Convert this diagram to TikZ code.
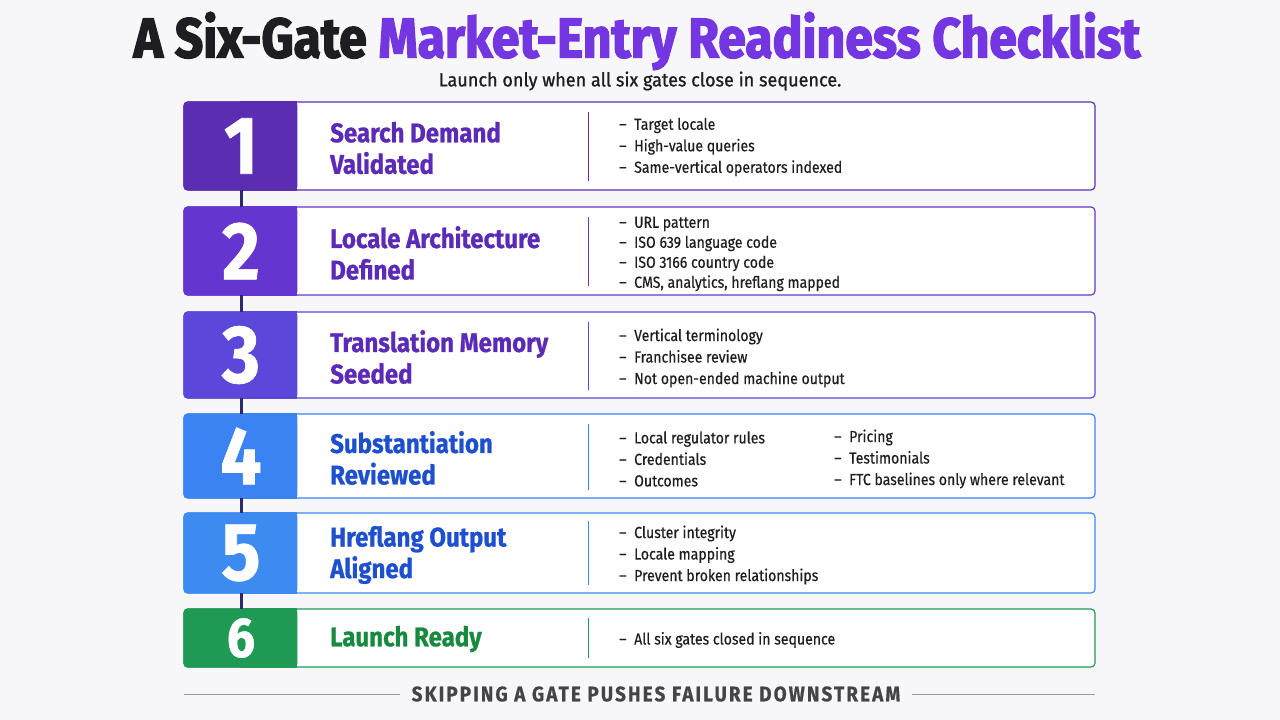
\documentclass[tikz,border=0pt]{standalone}
\usepackage{fontspec}
\usepackage{tikz}
\usepackage{xcolor}
\setmainfont{Fira Sans}
\newfontfamily\condfont{Fira Sans}[FakeStretch=0.89,FakeBold=0.8]
\newfontfamily\titlefont{Fira Sans}[FakeStretch=0.89,FakeBold=2.5]
\newfontfamily\bodyfont{Fira Sans}[FakeStretch=0.88,FakeBold=0.4]
\newfontfamily\subfont{Fira Sans}[FakeStretch=0.95,FakeBold=1]
\newfontfamily\footfont{Fira Sans}[FakeStretch=0.9,LetterSpace=10,FakeBold=0.6]

\definecolor{pagebg}{HTML}{F7F7F9}
\definecolor{ink}{HTML}{1E1E22}
\definecolor{titlepurple}{HTML}{7436E0}
\definecolor{gateone}{HTML}{5A2DB3}
\definecolor{gatetwo}{HTML}{6436CF}
\definecolor{gatethree}{HTML}{5B48DA}
\definecolor{gatefour}{HTML}{3B82F2}
\definecolor{gatefive}{HTML}{3D8BF0}
\definecolor{gatesix}{HTML}{1E9A55}
\definecolor{headpurple}{HTML}{5B2BB8}
\definecolor{headblue}{HTML}{1E4FCF}
\definecolor{headgreen}{HTML}{178A3F}
\definecolor{linkcol}{HTML}{2B2A6B}
\definecolor{footgray}{HTML}{444448}
\definecolor{rulegray}{HTML}{9A9AA0}

\newcommand{\dash}{\makebox[15pt][l]{\textendash}}

\begin{document}
\begin{tikzpicture}[x=1pt,y=-1pt,
  row/.style={draw=#1,line width=1.2pt,rounded corners=4pt,fill=white,minimum width=911pt,inner sep=0pt},
  num/.style={text=white,minimum width=114pt,inner sep=0pt,font=\condfont\bfseries\fontsize{82}{82}\selectfont},
  head/.style={text=#1,anchor=west,align=left,inner sep=0pt,font=\condfont\bfseries\fontsize{27}{31.5}\selectfont},
  bul/.style={text=ink,anchor=west,align=left,inner sep=0pt,font=\bodyfont\fontsize{16}{21.5}\selectfont},
  div/.style={draw=#1,line width=1pt},
  link/.style={draw=linkcol,line width=3pt}]
\fill[pagebg] (0,0) rectangle (1280,720);
\useasboundingbox (0,0) rectangle (1280,720);

% title
\node[font=\titlefont\bfseries\fontsize{56}{60}\selectfont,text=ink,inner sep=0pt] (title) at (637,41) {A Six-Gate \textcolor{titlepurple}{Market-Entry Readiness Checklist}};
\node[font=\subfont\fontsize{19}{22}\selectfont,text=ink,inner sep=0pt] (sub) at (640,81) {Launch only when all six gates close in sequence.};

% gate 1
\node[row=gateone,minimum height=88pt] (r1) at (639.5,146) {};
\fill[gateone,rounded corners=4pt] (r1.north west) rectangle ([xshift=114pt]r1.south west);
\fill[gateone] ([xshift=57pt]r1.north west) rectangle ([xshift=114pt]r1.south west);
\node[num,minimum height=88pt] (n1) at (241,146) {1};
\node[head=headpurple] (t1) at (330,148) {Search Demand\\Validated};
\draw[div=gateone] (588,112) -- (588,181);
\node[bul] (b1) at (619,147) {\dash Target locale\\\dash High-value queries\\\dash Same-vertical operators indexed};

% gate 2
\node[row=gatetwo,minimum height=88pt] (r2) at (639.5,251) {};
\fill[gatetwo,rounded corners=4pt] (r2.north west) rectangle ([xshift=114pt]r2.south west);
\fill[gatetwo] ([xshift=57pt]r2.north west) rectangle ([xshift=114pt]r2.south west);
\node[num,minimum height=88pt] (n2) at (241,251) {2};
\node[head=headpurple] (t2) at (330,253) {Locale Architecture\\Defined};
\draw[div=gatetwo] (588,217) -- (588,286);
\node[bul,font=\bodyfont\fontsize{16}{20}\selectfont] (b2) at (619,254) {\dash URL pattern\\\dash ISO 639 language code\\\dash ISO 3166 country code\\\dash CMS, analytics, hreflang mapped};

% gate 3
\node[row=gatethree,minimum height=86pt] (r3) at (639.5,355) {};
\fill[gatethree,rounded corners=4pt] (r3.north west) rectangle ([xshift=114pt]r3.south west);
\fill[gatethree] ([xshift=57pt]r3.north west) rectangle ([xshift=114pt]r3.south west);
\node[num,minimum height=86pt] (n3) at (241,355) {3};
\node[head=headpurple] (t3) at (330,357) {Translation Memory\\Seeded};
\draw[div=gatethree] (588,322) -- (588,390);
\node[bul] (b3) at (619,358) {\dash Vertical terminology\\\dash Franchisee review\\\dash Not open-ended machine output};

% gate 4
\node[row=gatefour,minimum height=84pt] (r4) at (639.5,456) {};
\fill[gatefour,rounded corners=4pt] (r4.north west) rectangle ([xshift=114pt]r4.south west);
\fill[gatefour] ([xshift=57pt]r4.north west) rectangle ([xshift=114pt]r4.south west);
\node[num,minimum height=84pt] (n4) at (241,456) {4};
\node[head=headblue] (t4) at (330,458) {Substantiation\\Reviewed};
\draw[div=gatefour] (588,424) -- (588,490);
\node[bul] (b4) at (619,459) {\dash Local regulator rules\\\dash Credentials\\\dash Outcomes};
\node[bul] (c4) at (834,459) {\dash Pricing\\\dash Testimonials\\\dash FTC baselines only where relevant};

% gate 5
\node[row=gatefive,minimum height=80pt] (r5) at (639.5,553) {};
\fill[gatefive,rounded corners=4pt] (r5.north west) rectangle ([xshift=114pt]r5.south west);
\fill[gatefive] ([xshift=57pt]r5.north west) rectangle ([xshift=114pt]r5.south west);
\node[num,minimum height=80pt] (n5) at (241,553) {5};
\node[head=headblue] (t5) at (330,555) {Hreflang Output\\Aligned};
\draw[div=gatefive] (588,521) -- (588,585);
\node[bul] (b5) at (619,555) {\dash Cluster integrity\\\dash Locale mapping\\\dash Prevent broken relationships};

% gate 6
\node[row=gatesix,minimum height=58pt] (r6) at (639.5,638) {};
\fill[gatesix,rounded corners=4pt] (r6.north west) rectangle ([xshift=114pt]r6.south west);
\fill[gatesix] ([xshift=57pt]r6.north west) rectangle ([xshift=114pt]r6.south west);
\node[num,minimum height=58pt,font=\condfont\bfseries\fontsize{56}{56}\selectfont] (n6) at (241,638) {6};
\node[head=headgreen] (t6) at (330,639) {Launch Ready};
\draw[div=gatesix] (588,618) -- (588,658);
\node[bul] (b6) at (619,640) {\dash All six gates closed in sequence};

% links between gates
\draw[link] (n1) -- (n2);
\draw[link] (n2) -- (n3);
\draw[link] (n3) -- (n4);
\draw[link] (n4) -- (n5);
\draw[link] (n5) -- (n6);

% footer
\node[font=\footfont\bfseries\fontsize{21}{24}\selectfont,text=footgray,inner xsep=12pt] (ft) at (656,694) {SKIPPING A GATE PUSHES FAILURE DOWNSTREAM};
\coordinate (fl) at (184,694);
\coordinate (fr) at (1095,694);
\draw[rulegray,line width=1pt] (fl) -- (ft);
\draw[rulegray,line width=1pt] (fr) -- (ft);
\end{tikzpicture}
\end{document}
